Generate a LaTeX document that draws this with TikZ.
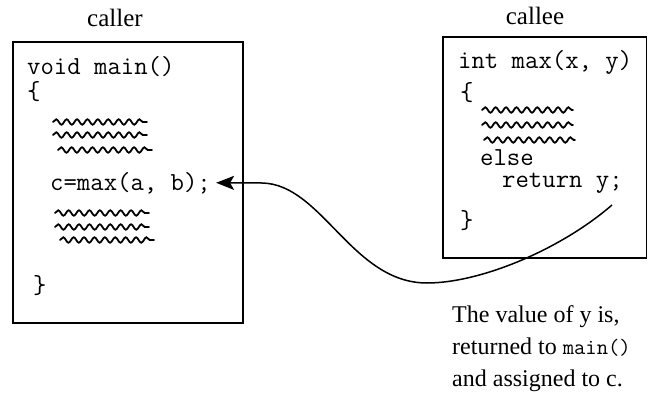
\documentclass[tikz,border=0pt]{standalone}
\usepackage{fontspec}
\setmainfont{Liberation Serif}
\usetikzlibrary{decorations.pathmorphing,arrows.meta}

\tikzset{
  frame/.style={draw, line width=1.2pt},
  label/.style={anchor=base, font=\fontsize{25}{30}\selectfont},
  code/.style={anchor=base west, inner sep=0pt, font=\ttfamily\fontsize{26}{30}\selectfont},
  squig/.style={decorate, decoration={snake, segment length=10.4pt, amplitude=2.7pt},
                line width=1.8pt, line cap=round},
  flow/.style={line width=1.5pt, -{Stealth[length=18pt,width=14pt,inset=4pt]}},
  note/.style={anchor=north west, align=left, inner sep=0pt,
               font=\fontsize{24}{32}\selectfont}
}

\begin{document}
\begin{tikzpicture}[x=1pt,y=1pt]
  % page
  \fill[white] (0,0) rectangle (648,400);
  \useasboundingbox (0,0) rectangle (648,400);

  % ---- caller ----
  \node[label] (callerlbl) at (115,373) {caller};
  \draw[frame] (13,358) rectangle (243,77);
  \node[code] (mainhead) at (27,326) {void main()};
  \node[code] (mainopen) at (27,301) {\{};
  \draw[squig] (53,278) -- (147,278);
  \draw[squig] (53,265) -- (147,265);
  \draw[squig] (58,250) -- (152,250);
  \node[code, inner sep=5pt] (call) at (45,210) {c=max(a, b);};
  \draw[squig] (55,187) -- (149,187);
  \draw[squig] (55,173) -- (149,173);
  \draw[squig] (60,160) -- (154,160);
  \node[code] (mainclose) at (33,107) {\}};

  % ---- callee ----
  \node[label] (calleelbl) at (535,375) {callee};
  \draw[frame] (443,363) rectangle (646.4,142);
  \node[code] (maxhead) at (458,331) {int max(x, y)};
  \node[code] (maxopen) at (460,300) {\{};
  \draw[squig] (482,290) -- (573,290);
  \draw[squig] (482,275) -- (573,275);
  \draw[squig] (484,260) -- (575,260);
  \node[code] (elsekw) at (480,235) {else};
  \node[code] (ret) at (502,213) {return y;};
  \node[code] (maxclose) at (460,172) {\}};

  % ---- return path ----
  \coordinate (retfrom) at (612,195);
  \draw[flow] (retfrom) .. controls (560,150) and (480,117) .. (427,117)
              .. controls (352,117) and (322,216) .. (262,217) -- (call.east);

  % ---- explanation ----
  \node[note] (expl) at (452,95)
    {The value of y is,\\
     returned to {\ttfamily\fontsize{22}{32}\selectfont main()}\\
     and assigned to c.};
\end{tikzpicture}
\end{document}
